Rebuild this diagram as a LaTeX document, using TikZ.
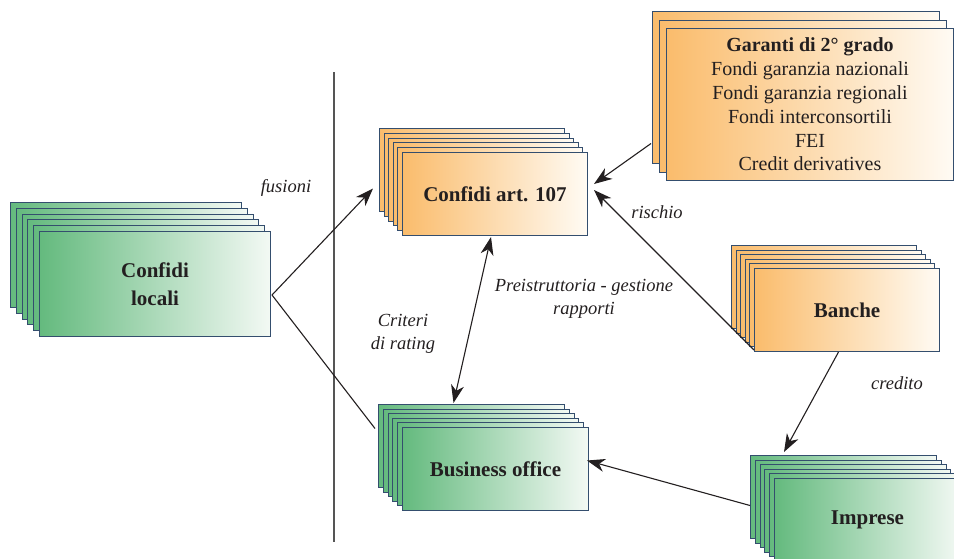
\documentclass[tikz,border=0pt]{standalone}
\usepackage{fontspec}
\setmainfont{Liberation Serif}
\usetikzlibrary{arrows.meta,calc}

\definecolor{ink}{RGB}{35,31,32}
\definecolor{frame}{RGB}{52,78,110}
\definecolor{grnL}{RGB}{100,186,126}
\definecolor{grnR}{RGB}{243,249,244}
\definecolor{orgL}{RGB}{250,188,108}
\definecolor{orgR}{RGB}{255,251,244}
\definecolor{divider}{RGB}{85,85,85}

\tikzset{
  sheet/.style={draw=frame, line width=1pt, anchor=north west, inner sep=0pt,
    text=ink, align=center},
  green/.style={left color=grnL, right color=grnR},
  orange/.style={left color=orgL, right color=orgR},
  boldtext/.style={font=\fontsize{21}{24}\selectfont\bfseries},
  flowlabel/.style={text=ink, align=center, inner sep=0pt,
    font=\fontsize{18.5}{23}\selectfont\itshape},
  link/.style={draw=ink, line width=1.1pt},
  arrow/.style={link, -{Stealth[length=18pt,width=13pt,inset=5.5pt]}},
  twoway/.style={link, {Stealth[length=18pt,width=13pt,inset=5.5pt]}-{Stealth[length=18pt,width=13pt,inset=5.5pt]}}
}

% A stack of sheets: #1 name of the front sheet, #2 its top-left corner,
% #3 width, #4 height, #5/#6 offset between sheets, #7 sheets behind,
% #8 style of the sheets, #9 text of the front sheet
\newcommand{\sheetstack}[9]{%
  \foreach \k in {#7,...,1}{%
    \node[sheet,#8,minimum width=#3pt,minimum height=#4pt]
      at ($#2-\k*(#5,#6)$) {};
  }
  \node[sheet,#8,minimum width=#3pt,minimum height=#4pt] (#1) at #2 {#9};
}

\begin{document}
\begin{tikzpicture}[x=1pt,y=-1pt]
\useasboundingbox (0,0) rectangle (954,558);
\clip (0,0) rectangle (954,558);

% vertical divider
\draw[divider, line width=1.6pt] (334,72) coordinate (dtop) -- (334,542) coordinate (dbot);

% stacks of sheets
\sheetstack{locali}{(39,231)}{231}{105}{5.8}{5.8}{5}
  {green, font=\fontsize{21}{28}\selectfont\bfseries}{Confidi\\locali}
\sheetstack{c107}{(402,152)}{185}{83}{4.6}{4.8}{5}{orange, boldtext}{Confidi art. 107}
\sheetstack{garanti}{(666,28)}{287}{152}{7}{8.5}{2}
  {orange, font=\fontsize{20}{23.8}\selectfont}
  {\textbf{Garanti di 2° grado}\\Fondi garanzia nazionali\\
   Fondi garanzia regionali\\Fondi interconsortili\\FEI\\Credit derivatives}
\sheetstack{banche}{(754,268)}{185}{83}{4.6}{4.6}{5}{orange, boldtext}{Banche}
\sheetstack{bo}{(402,427)}{186}{83}{4.8}{4.6}{5}{green, boldtext}{Business office}
\sheetstack{imprese}{(774,478)}{186}{83}{4.8}{4.6}{5}{green, boldtext}{Imprese}

% connectors
\coordinate (fork) at ($(locali.east)+(1,11)$);
\draw[arrow] (fork) -- ($(c107.west)+(-29,-5.5)$);
\draw[link] (fork) -- ($(bo.west)+(-27,-40.5)$);
\draw[twoway] ($(bo.north)+(-42,-24)$) -- ($(c107.south)+(-4,1)$);
\draw[arrow] ($(garanti.west)+(-15,39)$) -- ($(c107.east)+(6,-10)$);
\draw[arrow] ($(banche.south west)+(0,-2)$) -- ($(c107.east)+(6,-4)$);
\draw[arrow] ($(banche.south)+(-8.5,0)$) -- ($(imprese.north west)+(10,-26)$);
\draw[arrow] ($(imprese.west)+(-24,-14.5)$) -- ($(bo.east)+(-2,-8.5)$);

% connector labels
\node[flowlabel] (lfus) at (286,188) {fusioni};
\node[flowlabel] (lris) at (657,212) {rischio};
\node[flowlabel] (lpre) at (584,299) {Preistruttoria - gestione\\rapporti};
\node[flowlabel] (lcri) at (403,334) {Criteri\\di rating};
\node[flowlabel] (lcre) at (897,383) {credito};
\end{tikzpicture}
\end{document}
